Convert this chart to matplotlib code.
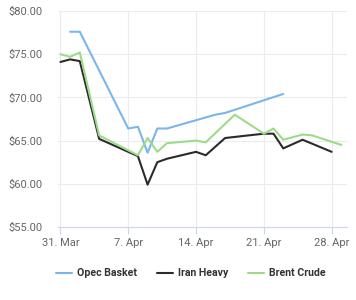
import matplotlib
matplotlib.use("Agg")
import matplotlib.pyplot as plt
import pandas as pd

plt.rcParams["font.family"] = ["Roboto", "DejaVu Sans"]

# ── Data (USD per barrel) ──────────────────────────────────
opec_dates = ["2025-04-01", "2025-04-02", "2025-04-07", "2025-04-08", "2025-04-09",
              "2025-04-10", "2025-04-11", "2025-04-16", "2025-04-17", "2025-04-23"]
opec_values = [77.6, 77.6, 66.4, 66.6, 63.6, 66.4, 66.4, 68.0, 68.2, 70.4]

iran_dates = ["2025-03-31", "2025-04-01", "2025-04-02", "2025-04-04", "2025-04-08",
              "2025-04-09", "2025-04-10", "2025-04-11", "2025-04-14", "2025-04-15",
              "2025-04-17", "2025-04-21", "2025-04-22", "2025-04-23", "2025-04-25",
              "2025-04-28"]
iran_values = [74.1, 74.4, 74.2, 65.2, 63.2, 59.9, 62.5, 62.9, 63.7, 63.3,
               65.3, 65.8, 65.8, 64.1, 65.1, 63.7]

brent_dates = ["2025-03-31", "2025-04-01", "2025-04-02", "2025-04-04", "2025-04-08",
               "2025-04-09", "2025-04-10", "2025-04-11", "2025-04-14", "2025-04-15",
               "2025-04-18", "2025-04-21", "2025-04-22", "2025-04-23", "2025-04-25",
               "2025-04-26", "2025-04-29"]
brent_values = [75.0, 74.7, 75.2, 65.6, 63.3, 65.3, 63.7, 64.7, 65.0, 64.8,
                68.0, 65.8, 66.4, 65.1, 65.7, 65.6, 64.5]

series_names = ["Opec Basket", "Iran Heavy", "Brent Crude"]
series_colors = ["#7cb5ec", "#2b2b2d", "#9ddb8a"]

tick_dates = ["2025-03-31", "2025-04-07", "2025-04-14", "2025-04-21", "2025-04-28"]
tick_labels = ["31. Mar", "7. Apr", "14. Apr", "21. Apr", "28. Apr"]
y_ticks = [55, 60, 65, 70, 75, 80]
y_labels = ["$55.00", "$60.00", "$65.00", "$70.00", "$75.00", "$80.00"]

# ── Figure ─────────────────────────────────────────────────
fig = plt.figure(figsize=(3.56, 3.0), dpi=100)
ax = fig.add_axes([58 / 356, 73 / 300, 289 / 356, 216 / 300])

all_series = [(opec_dates, opec_values), (iran_dates, iran_values), (brent_dates, brent_values)]
for (dates, values), name, color in zip(all_series, series_names, series_colors):
    ax.plot(pd.to_datetime(dates), values, color=color, lw=1.5, label=name,
            solid_joinstyle="round", solid_capstyle="round")

ax.set_ylim(55, 80)
ax.set_xlim(pd.Timestamp("2025-03-30 18:00"), pd.Timestamp("2025-04-29 14:00"))
ax.set_yticks(y_ticks)
ax.set_yticklabels(y_labels)
ax.set_xticks(pd.to_datetime(tick_dates))
ax.set_xticklabels(tick_labels)

ax.grid(True, color="#ececec", lw=0.8)
ax.set_axisbelow(True)
for side in ["top", "right", "left"]:
    ax.spines[side].set_visible(False)
ax.spines["bottom"].set_color("#ccd6eb")
ax.spines["bottom"].set_linewidth(0.8)

ax.tick_params(axis="y", length=0, pad=11, labelsize=8, labelcolor="#666666")
ax.tick_params(axis="x", length=5, width=0.8, color="#ccd6eb", pad=3,
               labelsize=8, labelcolor="#666666")

leg = ax.legend(loc="center", bbox_to_anchor=(0.46, -0.215), ncol=3, frameon=False,
                handlelength=1.5, handletextpad=0.5, columnspacing=1.9,
                prop={"size": 7.6, "weight": "bold"})
for text in leg.get_texts():
    text.set_color("#333333")

fig.savefig("out.png", dpi=100)
